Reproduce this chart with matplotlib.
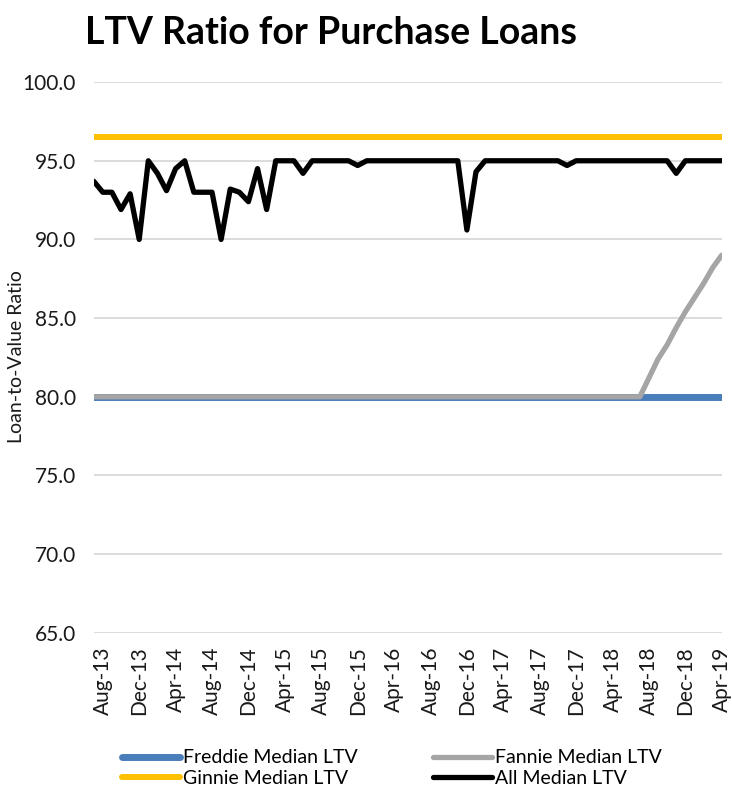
import matplotlib
matplotlib.use("Agg")
import matplotlib.pyplot as plt
import pandas as pd

plt.rcParams['font.family'] = ['Lato', 'DejaVu Sans']

# monthly categories, Jul-13 .. Apr-19
months = pd.date_range('2013-07-01', periods=70, freq='MS')
labels = [m.strftime('%b-%y') for m in months]

freddie = [80.0] * 70
fannie = [80.0] * 61 + [81.2, 82.4, 83.3, 84.4, 85.4, 86.3, 87.2, 88.2, 89.0]
ginnie = [96.5] * 70
all_ltv = [93.7, 93.0, 93.0, 91.9, 92.9, 90.0, 95.0, 94.2, 93.1, 94.5,
           95.0, 93.0, 93.0, 93.0, 90.0, 93.2, 93.0, 92.4, 94.5, 91.9,
           95.0, 95.0, 95.0, 94.2, 95.0, 95.0, 95.0, 95.0, 95.0, 94.7,
           95.0, 95.0, 95.0, 95.0, 95.0, 95.0, 95.0, 95.0, 95.0, 95.0,
           95.0, 90.6, 94.3, 95.0, 95.0, 95.0, 95.0, 95.0, 95.0, 95.0,
           95.0, 95.0, 94.7, 95.0, 95.0, 95.0, 95.0, 95.0, 95.0, 95.0,
           95.0, 95.0, 95.0, 95.0, 94.2, 95.0, 95.0, 95.0, 95.0, 95.0]

fig = plt.figure(figsize=(7.32, 7.97), dpi=100)
ax = fig.add_axes([0.128, 0.206, 0.858, 0.691])

x = list(range(len(months)))
kw = dict(solid_joinstyle='round', solid_capstyle='round')
ax.plot(x, freddie, color='#4a7ebb', lw=5.0, label='Freddie Median LTV', **kw)
ax.plot(x, fannie, color='#a5a5a5', lw=3.8, label='Fannie Median LTV', **kw)
ax.plot(x, ginnie, color='#ffc000', lw=4.3, label='Ginnie Median LTV', **kw)
ax.plot(x, all_ltv, color='black', lw=3.8, label='All Median LTV', **kw)

ax.set_xlim(0, len(months) - 1)
ax.set_ylim(65, 100)
ax.set_yticks([65, 70, 75, 80, 85, 90, 95, 100])
ax.set_yticklabels(['%.1f' % v for v in [65, 70, 75, 80, 85, 90, 95, 100]])
ax.set_xticks(x[1::4])
ax.set_xticklabels(labels[1::4], rotation=90)
ax.tick_params(axis='both', length=0, labelsize=15, colors='#1a1a1a')
ax.tick_params(axis='x', pad=10)
ax.tick_params(axis='y', pad=13)
ax.grid(axis='y', color='#d9d9d9', lw=1.3)
ax.set_axisbelow(True)
for s in ax.spines.values():
    s.set_visible(False)

# y axis title sits close to the left edge
fig.text(0.023, 0.552, 'Loan-to-Value Ratio', fontsize=14, rotation=90,
         ha='center', va='center', color='#1a1a1a')

fig.text(0.116, 0.945, 'LTV Ratio for Purchase Loans', fontsize=27, fontweight='bold',
         ha='left', va='baseline')

h, l = ax.get_legend_handles_labels()
order = [0, 2, 1, 3]
fig.legend([h[i] for i in order], [l[i] for i in order], ncol=2,
           loc='center', bbox_to_anchor=(0.535, 0.036), frameon=False,
           fontsize=14, handlelength=3.0, handletextpad=0.15, columnspacing=3.9,
           labelspacing=0.2)

fig.savefig('out.png', dpi=100)
